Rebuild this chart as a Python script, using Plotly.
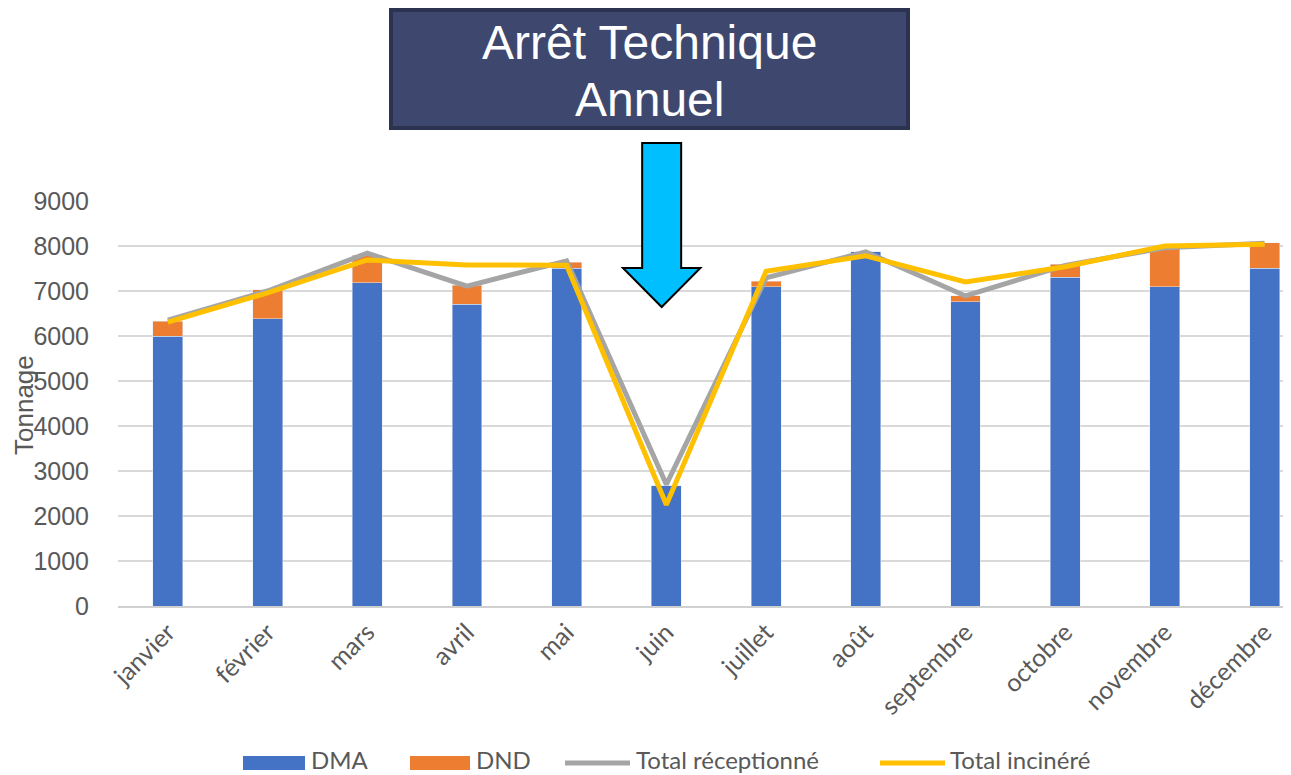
import plotly.graph_objects as go

months = ["janvier", "février", "mars", "avril", "mai", "juin", "juillet",
          "août", "septembre", "octobre", "novembre", "décembre"]
dma = [6000, 6380, 7180, 6710, 7510, 2670, 7090, 7870, 6760, 7310, 7090, 7510]
dnd = [330, 650, 620, 420, 130, 0, 130, 0, 130, 290, 870, 560]
total_recu = [6350, 7000, 7840, 7110, 7670, 2700, 7290, 7870, 6890, 7570, 7960, 8060]
total_incinere = [6310, 6960, 7690, 7580, 7570, 2250, 7440, 7780, 7200, 7540, 8000, 8040]
y_ticks = [0, 1000, 2000, 3000, 4000, 5000, 6000, 7000, 8000, 9000]
series_names = ["DMA", "DND", "Total réceptionné", "Total incinéré"]

OFF = 8  # page body margin
W, H = 1291 - OFF, 775 - OFF
L, T = 118 - OFF, 201 - OFF
R = 0
B = H - (606 - OFF)
pw = W - L - R
ph = H - T - B
step = 99.7

def px(xp):
    return (xp - OFF - L) / pw

def py(yp):
    return (H - B - (yp - OFF)) / ph

DMA_C, DND_C, REC_C, INC_C = "#4472C4", "#ED7D31", "#A5A5A5", "#FFC000"
colors = [DMA_C, DND_C, REC_C, INC_C]

fig = go.Figure()
fig.add_trace(go.Bar(x=months, y=dma, name=series_names[0], marker_color=DMA_C))
fig.add_trace(go.Bar(x=months, y=dnd, name=series_names[1], marker_color=DND_C))
fig.add_trace(go.Scatter(x=months, y=total_recu, name=series_names[2], mode="lines",
                         line=dict(color=REC_C, width=5)))
fig.add_trace(go.Scatter(x=months, y=total_incinere, name=series_names[3], mode="lines",
                         line=dict(color=INC_C, width=5)))

# arrow over "juin"
c = 4.953
sw = 19.5 / step
hw = 38.7 / step
yt, yb, ytip = py(143), py(268), py(307)
path = (f"M {c-sw} {yt} L {c+sw} {yt} L {c+sw} {yb} L {c+hw} {yb} L {c} {ytip} "
        f"L {c-hw} {yb} L {c-sw} {yb} Z")
shapes = [
    dict(type="path", xref="x", yref="paper", path=path,
         fillcolor="#00BFFF", line=dict(color="black", width=2)),
    dict(type="rect", xref="paper", yref="paper",
         x0=px(391), x1=px(908), y0=py(128), y1=py(10),
         fillcolor="#3E476E", line=dict(color="#2C3350", width=4)),
]

annotations = [
    dict(text="Arrêt Technique", xref="paper", yref="paper", x=px(649.5), y=py(42),
         showarrow=False, xanchor="center", yanchor="middle",
         font=dict(family="Liberation Sans, Arial", size=48, color="white")),
    dict(text="Annuel", xref="paper", yref="paper", x=px(649.5), y=py(99),
         showarrow=False, xanchor="center", yanchor="middle",
         font=dict(family="Liberation Sans, Arial", size=48, color="white")),
    dict(text="Tonnage", xref="paper", yref="paper", x=px(24), y=py(405),
         showarrow=False, textangle=-90, xanchor="center", yanchor="middle",
         font=dict(family="Liberation Sans, Arial", size=26, color="#595959")),
]

# custom legend (wide swatches as in the reference)
leg_y = 763
sym_x = [(243, 305), (410, 470), (565, 630), (880, 945)]
txt_x = [310, 475, 635, 949]
for i, nm in enumerate(series_names):
    x0, x1 = sym_x[i]
    if i < 2:
        shapes.append(dict(type="rect", xref="paper", yref="paper",
                           x0=px(x0), x1=px(x1), y0=py(leg_y + 7), y1=py(leg_y - 7),
                           fillcolor=colors[i], line=dict(width=0)))
    else:
        shapes.append(dict(type="line", xref="paper", yref="paper",
                           x0=px(x0), x1=px(x1), y0=py(leg_y), y1=py(leg_y),
                           line=dict(color=colors[i], width=5)))
    annotations.append(dict(text=nm, xref="paper", yref="paper", x=px(txt_x[i]), y=py(775),
                            showarrow=False, xanchor="left", yanchor="bottom", borderpad=0,
                            font=dict(family="Lato, Calibri, sans-serif", size=24, color="#595959")))

fig.update_layout(
    width=W, height=H,
    margin=dict(l=L, r=R, t=T, b=B, autoexpand=False),
    barmode="stack", bargap=0.7,
    plot_bgcolor="white", paper_bgcolor="white",
    showlegend=False,
    shapes=shapes, annotations=annotations,
    xaxis=dict(range=[-0.5, -0.5 + pw / step], tickangle=-45, showgrid=False,
               showline=True, linecolor="#D0D0D0", linewidth=1.5, automargin=False,
               tickfont=dict(family="Lato, Calibri, sans-serif", size=25, color="#595959")),
    yaxis=dict(range=[0, 9000], tickvals=y_ticks, showgrid=True, gridcolor="#D9D9D9",
               gridwidth=1.5, zeroline=False, automargin=False, ticklabelstandoff=28,
               tickfont=dict(family="Liberation Sans, Arial", size=25, color="#595959")),
)

fig.write_html("out.html")
